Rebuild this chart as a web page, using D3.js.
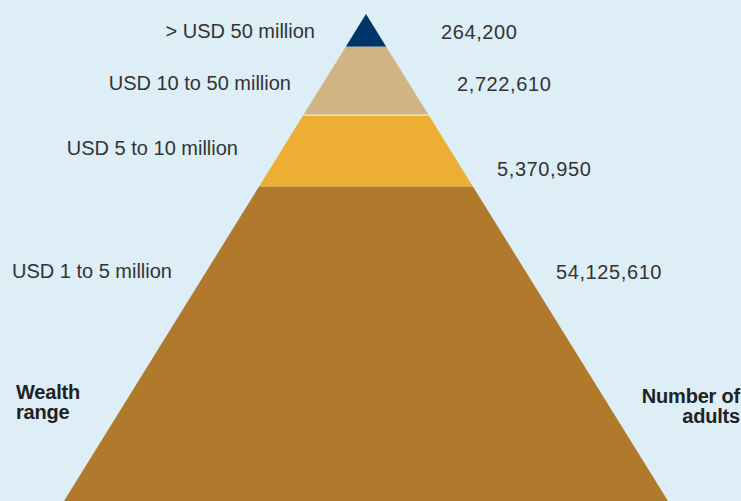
<!DOCTYPE html>
<html>
<head>
<meta charset="utf-8">
<script src="https://cdn.jsdelivr.net/npm/d3@7"></script>
<style>
    body { margin: 0; background: #deeef7; }
    .range { font-family: 'Liberation Sans', Arial, sans-serif; font-size: 20px; fill: #333; }
    .count { font-family: 'Liberation Sans', Arial, sans-serif; font-size: 20px; fill: #333; letter-spacing: 0.6px; }
    .axisTitle { font-family: 'Liberation Sans', Arial, sans-serif; font-size: 20px; font-weight: bold; fill: #222; letter-spacing: -0.2px; }
</style>
</head>
<body>
<div id="chart"></div>
<script>
//Data of the pyramid (top to bottom)
const ranges = ['> USD 50 million', 'USD 10 to 50 million', 'USD 5 to 10 million', 'USD 1 to 5 million']
const adults = [264200, 2722610, 5370950, 54125610]
const colors = ['#003567', '#d1b483', '#ecae33', '#b0792c']

//Layout of the picture
const width = 741
const height = 501
const apexY = 14
const baseY = 501
const apexX = 366
const halfBase = 302
//Bottom of each tier as a share of the pyramid height
const tierDepth = [0.067, 0.2075, 0.3545, 1]
//Label anchors (right end of ranges, start of counts, baselines)
const rangeX = [315, 291, 238, 172]
const rangeY = [38, 90, 155, 278]
const countX = [441, 457, 497, 556]
const countY = [39, 91, 176, 279]

const svg = d3.select('#chart')
    .append('svg')
    .attr('width', width)
    .attr('height', height)

svg.append('rect')
    .attr('width', width)
    .attr('height', height)
    .attr('fill', '#deeef7')

//Scales: depth 0 at the apex, 1 at the base
const scaleY = d3.scaleLinear().domain([0, 1]).range([apexY, baseY])
const scaleHalf = d3.scaleLinear().domain([0, 1]).range([0, halfBase])

const tiers = ranges.map((r, i) => ({
    range: r,
    adults: adults[i],
    color: colors[i],
    top: i === 0 ? 0 : tierDepth[i - 1],
    bottom: tierDepth[i]
}))

const line = d3.line()

//Tiers of the pyramid
const groupPyramid = svg.append('g')
    .attr('class', 'pyramid')

groupPyramid.selectAll('path')
    .data(tiers)
    .enter()
    .append('path')
    .attr('d', d => {
        const pts = [
            [apexX - scaleHalf(d.top), scaleY(d.top)],
            [apexX + scaleHalf(d.top), scaleY(d.top)],
            [apexX + scaleHalf(d.bottom), scaleY(d.bottom)],
            [apexX - scaleHalf(d.bottom), scaleY(d.bottom)]
        ]
        return line(pts) + 'Z'
    })
    .attr('fill', d => d.color)

//Thin light separator under the beige tier
groupPyramid.append('line')
    .attr('x1', apexX - scaleHalf(tierDepth[1]))
    .attr('x2', apexX + scaleHalf(tierDepth[1]))
    .attr('y1', scaleY(tierDepth[1]))
    .attr('y2', scaleY(tierDepth[1]))
    .attr('stroke', '#f4ecdc')
    .attr('stroke-width', 1.2)

//Wealth range labels
svg.selectAll('.range')
    .data(tiers)
    .enter()
    .append('text')
    .attr('class', 'range')
    .attr('x', (d, i) => rangeX[i])
    .attr('y', (d, i) => rangeY[i])
    .attr('text-anchor', 'end')
    .text(d => d.range)

//Number of adults labels
const format = d3.format(',')
svg.selectAll('.count')
    .data(tiers)
    .enter()
    .append('text')
    .attr('class', 'count')
    .attr('x', (d, i) => countX[i])
    .attr('y', (d, i) => countY[i])
    .text(d => format(d.adults))

//Column titles
const titleLeft = svg.append('text')
    .attr('class', 'axisTitle')
    .attr('x', 16)
    .attr('y', 399)
titleLeft.append('tspan').attr('x', 16).text('Wealth')
titleLeft.append('tspan').attr('x', 16).attr('dy', 20).text('range')

const titleRight = svg.append('text')
    .attr('class', 'axisTitle')
    .attr('x', 740)
    .attr('y', 403)
    .attr('text-anchor', 'end')
titleRight.append('tspan').attr('x', 740).text('Number of')
titleRight.append('tspan').attr('x', 740).attr('dy', 20).text('adults')
</script>
</body>
</html>
